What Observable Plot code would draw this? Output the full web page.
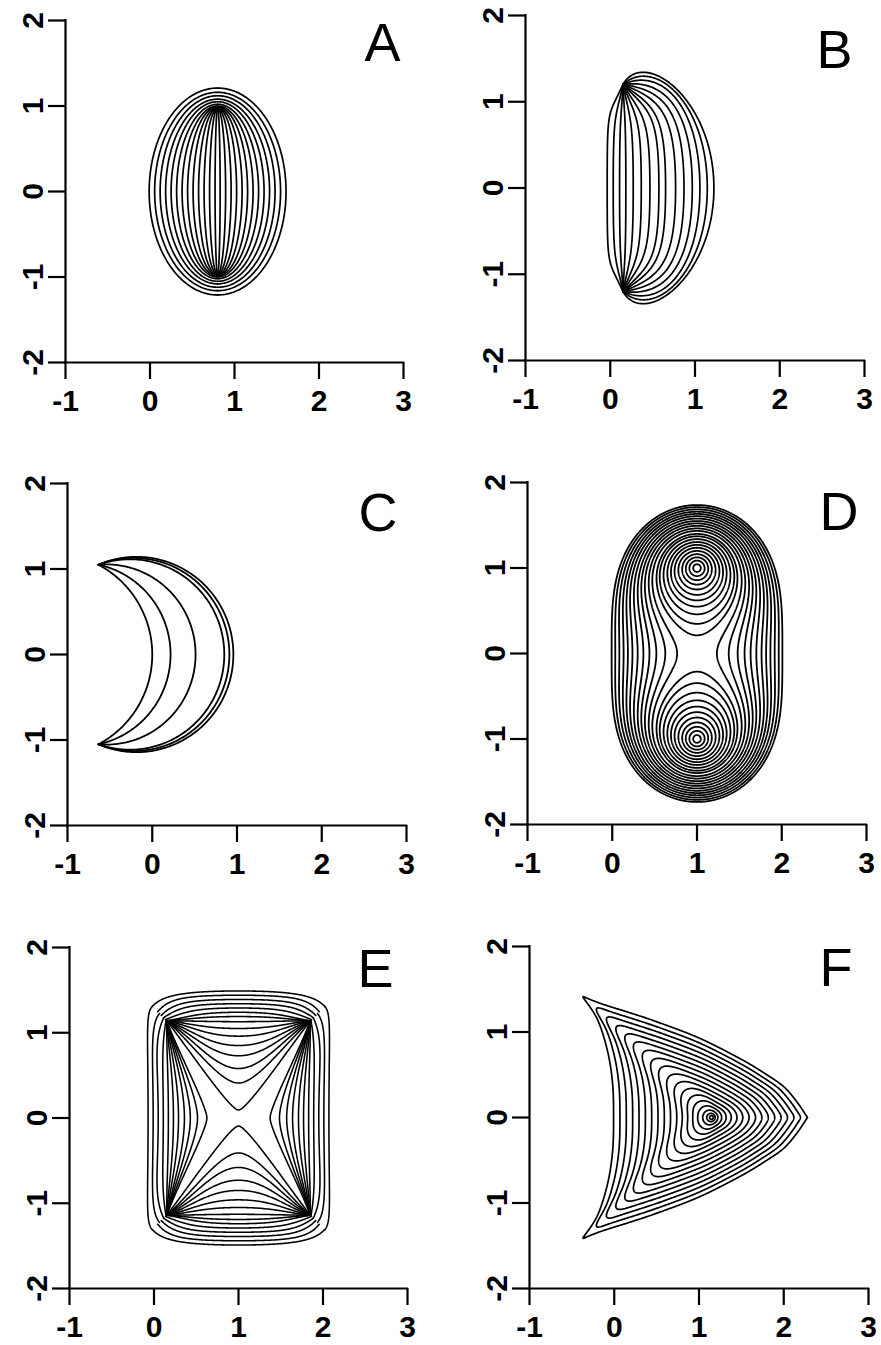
<!DOCTYPE html>
<html><head><meta charset="utf-8">
<script src="https://cdn.jsdelivr.net/npm/d3@7"></script>
<script src="https://cdn.jsdelivr.net/npm/@observablehq/plot@0.6"></script>
<style>
html,body{margin:0;padding:0;background:#fff;}
#wrap{position:relative;width:881px;height:1345px;overflow:hidden;background:#fff;}
.panel{position:absolute;}
</style></head>
<body><div id="wrap"></div>
<script>
// ---------- axes ----------
const xTicks = [-1, 0, 1, 2, 3];
const xTickLabels = ["-1", "0", "1", "2", "3"];
const yTicks = [-2, -1, 0, 1, 2];
const yTickLabels = ["-2", "-1", "0", "1", "2"];
const panelLetters = ["A", "B", "C", "D", "E", "F"];

// ---------- panel A : meridians between two poles ----------
const aCenterX = 0.8;
const aCross = [-0.01, 0.055, 0.12, 0.185, 0.25, 0.315, 0.38, 0.445, 0.51, 0.575, 0.64, 0.705, 0.77,
                0.83, 0.895, 0.96, 1.025, 1.09, 1.155, 1.22, 1.285, 1.35, 1.415, 1.48, 1.545, 1.61];
const aPole = [1.21, 1.16, 1.12, 1.08, 1.05, 1.02, 1.0, 0.99, 0.98, 0.975, 0.97, 0.97, 0.97,
               0.97, 0.97, 0.97, 0.975, 0.98, 0.99, 1.0, 1.02, 1.05, 1.08, 1.12, 1.16, 1.21];

// ---------- panel B : arcs leaving a pole near the left edge ----------
const bPole  = [0.15, 1.2];
const bCross = [-0.036, 0.035, 0.11, 0.184, 0.271, 0.366, 0.468, 0.574, 0.653, 0.771, 0.87, 0.968, 1.058, 1.145, 1.223];
const bAngle = [-25, -12, -3, 3, 12, 22, 32, 45, 55, 68, 82, 98, 115, 132, 150];
const bReach = [0.35, 0.35, 0.35, 0.35, 0.35, 0.35, 0.35, 0.35, 0.34, 0.33, 0.33, 0.32, 0.32, 0.31, 0.31];
const bFlat  = [0.8, 0.75, 0.7, 0.65, 0.65, 0.68, 0.7, 0.72, 0.74, 0.76, 0.78, 0.8, 0.82, 0.84, 0.86];

// ---------- panel C : arcs between two cusps ----------
const cCusp = [-0.635, 1.05];
const cCross = [0.0, 0.216, 0.511, 0.85, 0.91, 0.957];

// ---------- panel D : contour levels around two foci ----------
const dFoci = [[1, 1], [1, -1]];
const dLevels = [0.09, 0.18, 0.265, 0.35, 0.44, 0.53, 0.615, 0.7, 0.79, 0.88, 0.955,
                 1.055, 1.14, 1.23, 1.315, 1.4, 1.49, 1.58, 1.665, 1.75, 1.84, 1.93, 2.015];

// ---------- panel E : four-corner families ----------
const eCorner = [0.15, 1.14];
const eTopMid   = [1.49, 1.44, 1.39, 1.34, 1.29, 1.24, 1.19, 1.13, 1.05, 0.96, 0.85, 0.73, 0.58, 0.41, 0.094];
const eTopShift = [0.24, 0.15, 0.09, 0.05, 0.02, 0, 0, 0, 0, 0, 0, 0, 0, 0, 0];
const eTopAngle = [-45, -50, -45, -35, -22, -10, -4, 0, 6, 12, 19, 26, 33, 41, 52];
const eTopFlat  = [0.75, 0.7, 0.66, 0.62, 0.58, 0.55, 0.52, 0.5, 0.48, 0.45, 0.42, 0.38, 0.33, 0.26, 0.12];
const eTopReach = [0.14, 0.2, 0.22, 0.25, 0.3, 0.35, 0.35, 0.35, 0.35, 0.35, 0.35, 0.35, 0.35, 0.35, 0.35];
const eSideMid   = [-0.07, -0.01, 0.05, 0.11, 0.17, 0.23, 0.29, 0.36, 0.43, 0.515, 0.626];
const eSideShift = [0.24, 0.12, 0.05, 0.01, 0, 0, 0, 0, 0, 0, 0];
const eSideAngle = [-45, -40, -25, -10, 0, 4, 8, 12, 15, 18, 21];
const eSideFlat  = [0.75, 0.6, 0.55, 0.5, 0.45, 0.42, 0.38, 0.33, 0.28, 0.22, 0.12];
const eSideReach = [0.09, 0.15, 0.25, 0.3, 0.35, 0.35, 0.35, 0.35, 0.35, 0.35, 0.35];

// ---------- panel F : nested curves around a centre ----------
const fCenter = [1.15, 0];
const fTopEdge = [[2.28, 0], [2.15, 0.19], [2.0, 0.36], [1.8, 0.5], [1.5, 0.68], [1.0, 0.93],
                  [0.5, 1.12], [0.2, 1.22], [-0.15, 1.33], [-0.38, 1.42]];
const fLeftEdge = [[-0.38, 1.42], [-0.2, 1.15], [-0.08, 0.78], [-0.02, 0.4], [-0.008, 0]];
const fScale = [1, 0.935, 0.87, 0.805, 0.74, 0.675, 0.61, 0.545, 0.48, 0.415, 0.35, 0.29, 0.23, 0.175, 0.125, 0.08, 0.045, 0.02];
const fRound = [0, 1, 1.5, 2, 2.5, 3, 4, 5, 6, 8, 10, 13, 17, 22, 30, 40, 55, 70];

// ---------- geometry helpers ----------
function meridians(cx, cross, pole) {
  const out = [];
  cross.forEach((xk, i) => {
    const d = xk - cx, b = pole[i], n = 200;
    for (let j = 0; j <= n; j++) {
      const t = Math.PI / 2 - Math.PI * j / n;
      out.push({x: cx + d * Math.cos(t), y: b * Math.sin(t), id: i});
    }
  });
  return out;
}
function cuspArcs(cusp, cross) {
  const [px, py] = cusp, out = [];
  cross.forEach((xk, i) => {
    const c = (xk * xk - px * px - py * py) / (2 * (xk - px));
    const r = xk - c, th0 = Math.atan2(py, px - c), n = 200;
    for (let j = 0; j <= n; j++) {
      const th = th0 - 2 * th0 * j / n;
      out.push({x: c + r * Math.cos(th), y: r * Math.sin(th), id: i});
    }
  });
  return out;
}
// cubic arm from a start point to a vertex whose tangent is parallel to u
function arm(P0, V, u, nrm, angleDeg, flat, reach) {
  const phi = angleDeg * Math.PI / 180;
  const h1 = reach * Math.hypot(V[0] - P0[0], V[1] - P0[1]);
  const hc = (V[0] - P0[0]) * u[0] + (V[1] - P0[1]) * u[1];
  const dir = [Math.cos(phi) * u[0] + Math.sin(phi) * nrm[0], Math.cos(phi) * u[1] + Math.sin(phi) * nrm[1]];
  const C1 = [P0[0] + h1 * dir[0], P0[1] + h1 * dir[1]];
  const C2 = [V[0] - flat * hc * u[0], V[1] - flat * hc * u[1]];
  const n = 120, pts = [];
  for (let j = 0; j <= n; j++) {
    const t = j / n, a = (1 - t) ** 3, b = 3 * (1 - t) ** 2 * t, c = 3 * (1 - t) * t * t, e = t ** 3;
    pts.push([a * P0[0] + b * C1[0] + c * C2[0] + e * V[0], a * P0[1] + b * C1[1] + c * C2[1] + e * V[1]]);
  }
  return pts;
}
const flipY = p => [p[0], -p[1]];
function poleArcs() {
  const out = [];
  bCross.forEach((xk, i) => {
    const a = arm(bPole, [xk, 0], [0, -1], [1, 0], bAngle[i], bFlat[i], bReach[i]);
    [...a, ...a.slice(0, -1).reverse().map(flipY)].forEach(p => out.push({x: p[0], y: p[1], id: i}));
  });
  return out;
}
function cornerFamilies(out) {
  const [cx, cy] = eCorner, mx = 1, k = Math.SQRT1_2;
  const flipX = p => [2 * mx - p[0], p[1]];
  let id = 0;
  const push = pts => { pts.forEach(p => out.push({x: p[0], y: p[1], id})); id++; };
  eTopMid.forEach((m, i) => {
    const P0 = [cx - eTopShift[i] * k, cy + eTopShift[i] * k];
    const a = arm(P0, [mx, m], [1, 0], [0, -1], eTopAngle[i], eTopFlat[i], eTopReach[i]);
    const full = [...a, ...a.slice(0, -1).reverse().map(flipX)];
    push(full); push(full.map(flipY));
  });
  eSideMid.forEach((x0, i) => {
    const P0 = [cx - eSideShift[i] * k, cy + eSideShift[i] * k];
    const a = arm(P0, [x0, 0], [0, -1], [1, 0], eSideAngle[i], eSideFlat[i], eSideReach[i]);
    const full = [...a, ...a.slice(0, -1).reverse().map(flipY)];
    push(full); push(full.map(flipX));
  });
}
function catmull(pts, n) {
  const P = [pts[0], ...pts, pts[pts.length - 1]], out = [];
  for (let i = 1; i < P.length - 2; i++) {
    const [p0, p1, p2, p3] = [P[i - 1], P[i], P[i + 1], P[i + 2]];
    for (let j = 0; j < n; j++) {
      const t = j / n, t2 = t * t, t3 = t2 * t;
      const f = k => 0.5 * (2 * p1[k] + (-p0[k] + p2[k]) * t + (2 * p0[k] - 5 * p1[k] + 4 * p2[k] - p3[k]) * t2 + (-p0[k] + 3 * p1[k] - 3 * p2[k] + p3[k]) * t3);
      out.push([f(0), f(1)]);
    }
  }
  out.push(pts[pts.length - 1]);
  return out;
}
function nestedCurves() {
  const left = [...fLeftEdge, ...fLeftEdge.slice(0, -1).reverse().map(flipY)];
  const bottom = fTopEdge.slice().reverse().map(flipY);
  const dense = [...catmull(fTopEdge, 40), ...catmull(left, 40), ...catmull(bottom, 40)];
  const pol = dense.map(([x, y]) => {
    let th = Math.atan2(y - fCenter[1], x - fCenter[0]); if (th < 0) th += 2 * Math.PI;
    return [th, Math.hypot(x - fCenter[0], y - fCenter[1])];
  }).sort((a, b) => a[0] - b[0]);
  const N = 1440, R = new Float64Array(N);
  const ths = pol.map(d => d[0]);
  for (let g = 0; g < N; g++) {
    const th = 2 * Math.PI * g / N;
    const k = d3.bisectLeft(ths, th);
    const A = pol[(k - 1 + pol.length) % pol.length], B = pol[k % pol.length];
    let a0 = A[0], b0 = B[0];
    if (k === 0) a0 -= 2 * Math.PI;
    if (k >= pol.length) b0 += 2 * Math.PI;
    const w = b0 - a0 > 1e-9 ? (th - a0) / (b0 - a0) : 0;
    R[g] = A[1] + (B[1] - A[1]) * w;
  }
  const out = [];
  fScale.forEach((s, i) => {
    const sig = fRound[i] * N / 360;
    let Rs = R;
    if (sig > 0) {
      Rs = new Float64Array(N);
      const half = Math.min(Math.floor(N / 2), Math.ceil(3 * sig));
      const ker = [];
      for (let k = -half; k <= half; k++) ker.push(Math.exp(-0.5 * (k / sig) ** 2));
      const ks = d3.sum(ker);
      for (let g = 0; g < N; g++) {
        let acc = 0;
        for (let k = -half; k <= half; k++) acc += ker[k + half] * R[(g + k + N) % N];
        Rs[g] = acc / ks;
      }
    }
    for (let g = 0; g <= N; g++) {
      const th = 2 * Math.PI * g / N, r = s * Rs[g % N];
      out.push({x: fCenter[0] + r * Math.cos(th), y: fCenter[1] + r * Math.sin(th), id: i});
    }
  });
  return out;
}

// ---------- build panel data ----------
const dataA = meridians(aCenterX, aCross, aPole);
const dataB = poleArcs();
const dataC = cuspArcs(cCusp, cCross);
const dataE = [];
cornerFamilies(dataE);
const dataF = nestedCurves();
// negative product of focal distances: level sets inside the outer oval
const cassini = (x, y) => -Math.hypot(x - dFoci[0][0], y - dFoci[0][1]) * Math.hypot(x - dFoci[1][0], y - dFoci[1][1]);
const dThresholds = dLevels.map(c => -c).reverse();

const lineOpts = w => ({x: "x", y: "y", z: "id", stroke: "black", strokeWidth: w, strokeLinejoin: "round", curve: "linear"});
const panelMarks = [
  [Plot.line(dataA, lineOpts(1.7))],
  [Plot.line(dataB, lineOpts(1.7))],
  [Plot.line(dataC, lineOpts(1.8))],
  [Plot.contour({value: cassini, x1: -1, x2: 3, y1: -2, y2: 2, thresholds: dThresholds, pixelSize: 0.5, stroke: "black", fill: "none", strokeWidth: 1.8})],
  [Plot.line(dataE, lineOpts(1.55))],
  [Plot.line(dataF, lineOpts(1.7))]
];

// ---------- layout ----------
const ML = 65, MT = 15, MR = 10, MB = 62;
const layout = [
  {left: 65, top: 20, w: 338, h: 342, ldx: -3, ldy: 2},
  {left: 525, top: 15, w: 339, h: 345, ldx: -12, ldy: 14},
  {left: 67, top: 483, w: 339, h: 342, ldx: -9, ldy: 9},
  {left: 527, top: 482, w: 339, h: 342, ldx: -8, ldy: 9},
  {left: 69, top: 947, w: 338, h: 341, ldx: -14, ldy: 1},
  {left: 529, top: 946, w: 339, h: 342, ldx: -16, ldy: 1}
];
const font = "'Liberation Sans', Arial, Helvetica, sans-serif";
const wrap = document.getElementById("wrap");
const xFmt = d => xTickLabels[xTicks.indexOf(d)];
const yFmt = d => yTickLabels[yTicks.indexOf(d)];

layout.forEach((p, i) => {
  const fig = Plot.plot({
    width: ML + p.w + MR, height: MT + p.h + MB,
    marginLeft: ML, marginTop: MT, marginRight: MR, marginBottom: MB,
    x: {domain: d3.extent(xTicks), axis: null},
    y: {domain: d3.extent(yTicks), axis: null},
    style: {fontFamily: font, background: "transparent", overflow: "visible", color: "black"},
    marks: [
      ...panelMarks[i],
      Plot.ruleY([d3.min(yTicks)], {x1: d3.min(xTicks), x2: d3.max(xTicks), stroke: "black", strokeWidth: 2.2, strokeLinecap: "square"}),
      Plot.ruleX([d3.min(xTicks)], {y1: d3.min(yTicks), y2: d3.max(yTicks), stroke: "black", strokeWidth: 2.2, strokeLinecap: "square"}),
      Plot.axisX({ticks: xTicks, tickSize: 17, tickPadding: 10, tickFormat: xFmt, fontSize: 30, fontWeight: "bold", strokeWidth: 2.2, label: null}),
      Plot.axisY({ticks: yTicks, tickSize: 17, tickPadding: 6, tickRotate: -90, tickFormat: yFmt, fontSize: 30, fontWeight: "bold", strokeWidth: 2.2, label: null}),
      Plot.text([panelLetters[i]], {frameAnchor: "top-right", textAnchor: "end", lineAnchor: "top", dx: p.ldx, dy: p.ldy, fontSize: 54, fill: "black"})
    ]
  });
  const div = document.createElement("div");
  div.className = "panel";
  div.style.left = (p.left - ML) + "px";
  div.style.top = (p.top - MT) + "px";
  div.appendChild(fig);
  wrap.appendChild(div);
});
</script>
</body></html>
